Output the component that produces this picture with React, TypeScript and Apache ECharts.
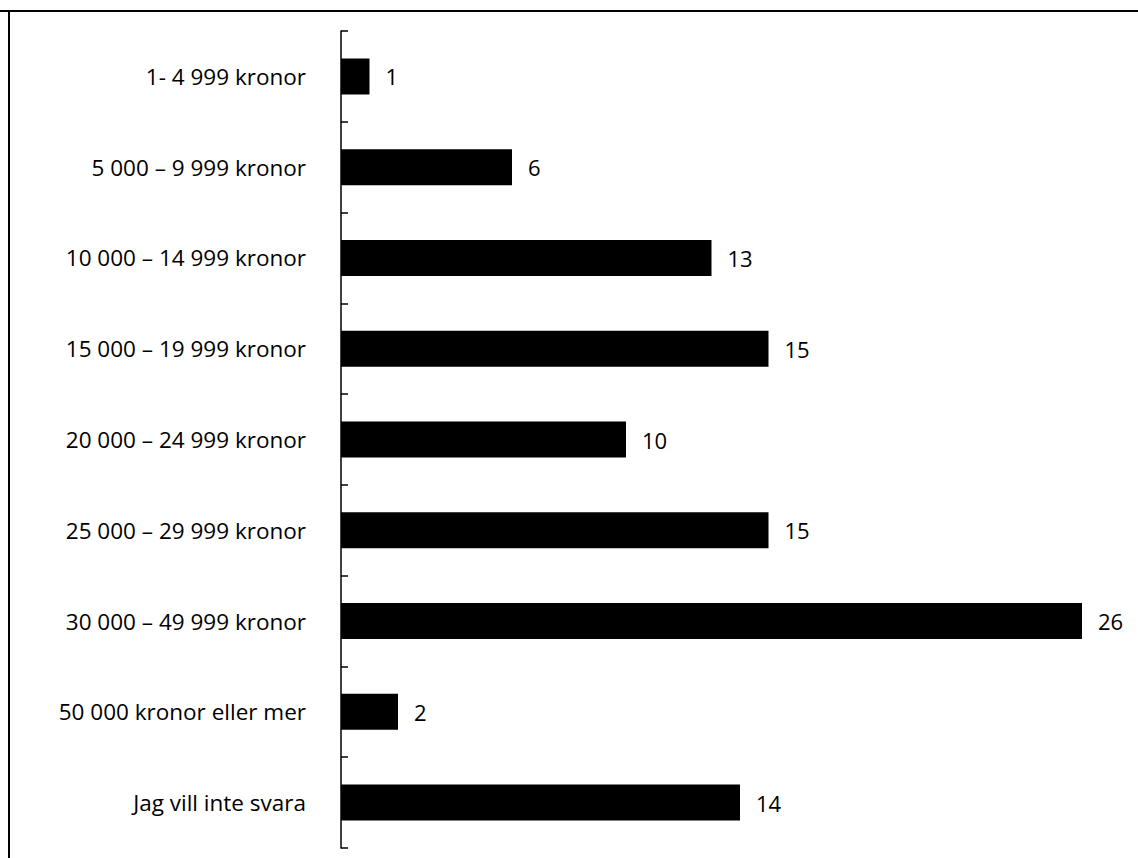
import React, { useEffect, useRef } from "react";
import * as echarts from "echarts";

const categories = [
  "1- 4 999 kronor",
  "5 000 – 9 999 kronor",
  "10 000 – 14 999 kronor",
  "15 000 – 19 999 kronor",
  "20 000 – 24 999 kronor",
  "25 000 – 29 999 kronor",
  "30 000 – 49 999 kronor",
  "50 000 kronor eller mer",
  "Jag vill inte svara",
];
const values = [1, 6, 13, 15, 10, 15, 26, 2, 14];

const FONT = "'Open Sans', Lato, sans-serif";

export default function App() {
  const ref = useRef<HTMLDivElement>(null);
  useEffect(() => {
    document.body.style.margin = "0";
    const chart = echarts.init(ref.current!, null, { renderer: "svg" });
    chart.setOption({
      animation: false,
      backgroundColor: "#fff",
      grid: { left: 341, right: 56, top: 31, bottom: 10, containLabel: false },
      xAxis: {
        type: "value",
        min: 0,
        max: 26,
        show: false,
      },
      yAxis: {
        type: "category",
        data: categories,
        inverse: true,
        axisLine: { show: true, lineStyle: { color: "#000", width: 1.5 } },
        axisTick: { show: true, inside: true, length: 7, lineStyle: { color: "#000", width: 1.5 } },
        axisLabel: { color: "#000", fontSize: 22.5, fontFamily: FONT, margin: 35 },
        splitLine: { show: false },
      },
      series: [
        {
          type: "bar",
          data: values,
          barWidth: 36,
          itemStyle: { color: "#000" },
          label: {
            show: true,
            position: "right",
            distance: 16,
            color: "#000",
            fontSize: 22,
            fontFamily: FONT,
          },
        },
      ],
      graphic: [
        { type: "line", shape: { x1: 0, y1: 11, x2: 1138, y2: 11 }, style: { stroke: "#000", lineWidth: 2 } },
        { type: "line", shape: { x1: 9, y1: 10, x2: 9, y2: 858 }, style: { stroke: "#000", lineWidth: 2 } },
      ],
    });
    return () => chart.dispose();
  }, []);
  return (
    <div
      ref={ref}
      style={{ position: "fixed", left: 0, top: 0, width: 1138, height: 858 }}
    />
  );
}
